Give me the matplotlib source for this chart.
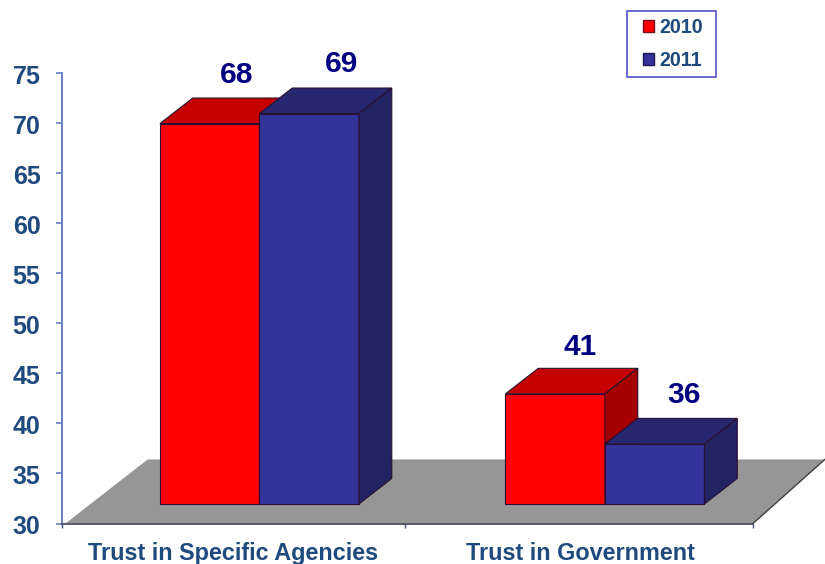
import matplotlib
matplotlib.use('Agg')
import matplotlib.pyplot as plt
from matplotlib.patches import Patch, Polygon, Rectangle
from matplotlib.transforms import ScaledTranslation

categories = ['Trust in Specific Agencies', 'Trust in Government']
years = ['2010', '2011']
values_2010 = [68, 41]
values_2011 = [69, 36]
y_ticks = [30, 35, 40, 45, 50, 55, 60, 65, 70, 75]

RED = ('#ff0000', '#c40000', '#a50000')
BLUE = ('#333399', '#272770', '#232363')
TEXT = '#1f4a7d'
EDGE = '#2a1030'

# oblique projection of the fake 3d chart, in axis units
BAR_W = 0.288
BAR_DX = 0.095
BAR_DY = 2.55
BASE_DX = 0.0715
BASE_DY = 1.95
FLOOR_DX = 0.208
FLOOR_DY = 6.4

plt.rcParams['font.family'] = ['Liberation Sans', 'DejaVu Sans']
plt.rcParams['font.weight'] = 'bold'

fig = plt.figure(figsize=(8.25, 5.64), dpi=100)
ax = fig.add_axes([62 / 825, 1 - 523.5 / 564, 691 / 825, 450.5 / 564])
ax.set_xlim(0, 2)
ax.set_ylim(30, 75)


def box(ax, x, value, colors, label_off):
    """one bar: front face plus the top and side faces"""
    x0 = x + BASE_DX
    x1 = x0 + BAR_W
    y0 = 30 + BASE_DY
    y1 = value + BASE_DY
    top = [(x0, y1), (x1, y1), (x1 + BAR_DX, y1 + BAR_DY), (x0 + BAR_DX, y1 + BAR_DY)]
    side = [(x1, y0), (x1 + BAR_DX, y0 + BAR_DY), (x1 + BAR_DX, y1 + BAR_DY), (x1, y1)]
    front = [(x0, y0), (x1, y0), (x1, y1), (x0, y1)]
    for pts, c in zip((front, top, side), colors):
        ax.add_patch(Polygon(pts, closed=True, facecolor=c, edgecolor=EDGE,
                             linewidth=0.8, clip_on=False, zorder=3))
    ax.annotate(str(value), xy=((x0 + x1) / 2, y1), xytext=label_off,
                textcoords='offset points', ha='center', va='center',
                fontsize=21.5, color='#000080', annotation_clip=False, zorder=4)


# grey floor under the bars
floor = [(0.01, 30), (2, 30), (2 + FLOOR_DX, 30 + FLOOR_DY), (0.01 + FLOOR_DX + 0.03, 30 + FLOOR_DY)]
ax.add_patch(Polygon(floor, closed=True, facecolor='#969696', edgecolor='none',
                     clip_on=False, zorder=1))
ax.plot([2, 2 + FLOOR_DX], [30, 30 + FLOOR_DY], color='#404040', lw=1.0,
        clip_on=False, zorder=2)

offsets_2010 = [(19, 35), (18, 34)]
offsets_2011 = [(23, 36), (21, 35)]
for i in range(len(categories)):
    box(ax, i + 0.5 - BAR_W, values_2010[i], RED, offsets_2010[i])
    box(ax, i + 0.5, values_2011[i], BLUE, offsets_2011[i])

for s in ('top', 'right'):
    ax.spines[s].set_visible(False)
ax.spines['left'].set_color('#6a80c4')
ax.spines['left'].set_linewidth(1.4)
ax.spines['bottom'].set_color('#404050')
ax.spines['bottom'].set_linewidth(1.2)
ax.spines['left'].set_zorder(5)
ax.spines['bottom'].set_zorder(5)
ax.patch.set_alpha(0)

ax.set_yticks(y_ticks)
ax.tick_params(axis='y', length=4.5, width=1.2, color='#6a80c4', pad=11,
               labelsize=18, labelcolor=TEXT)
# the numbers sit a little below their ticks
shift = ScaledTranslation(0, -1 / 72, fig.dpi_scale_trans)
for t in ax.get_yticklabels():
    t.set_transform(t.get_transform() + shift)
ax.set_xticks([0, 0.993, 2])
ax.set_xticklabels([])
ax.tick_params(axis='x', which='major', length=3, width=1.0, color='#405080')
ax.set_xticks([0.495, 1.5], minor=True)
ax.set_xticklabels(categories, minor=True)
ax.tick_params(axis='x', which='minor', length=0, pad=13, labelsize=16.8, labelcolor=TEXT)

# legend frame is separate so the side and top margins can differ
fig.add_artist(Rectangle((627 / 825, 1 - 77 / 564), 89 / 825, 66 / 564,
                         transform=fig.transFigure, facecolor='white',
                         edgecolor='#6a6ad0', linewidth=1.4))
handles = [Patch(facecolor=RED[0], edgecolor='#701020'),
           Patch(facecolor=BLUE[0], edgecolor='#201850')]
leg = fig.legend(handles, years, loc='upper left',
                 bbox_to_anchor=(643 / 825, 1 - 18 / 564), bbox_transform=fig.transFigure,
                 fontsize=14.2, labelcolor=TEXT, frameon=False,
                 handlelength=0.56, handleheight=0.56,
                 handletextpad=0.28, labelspacing=0.72, borderpad=0, borderaxespad=0)

fig.savefig('out.png', dpi=100, facecolor='white')
